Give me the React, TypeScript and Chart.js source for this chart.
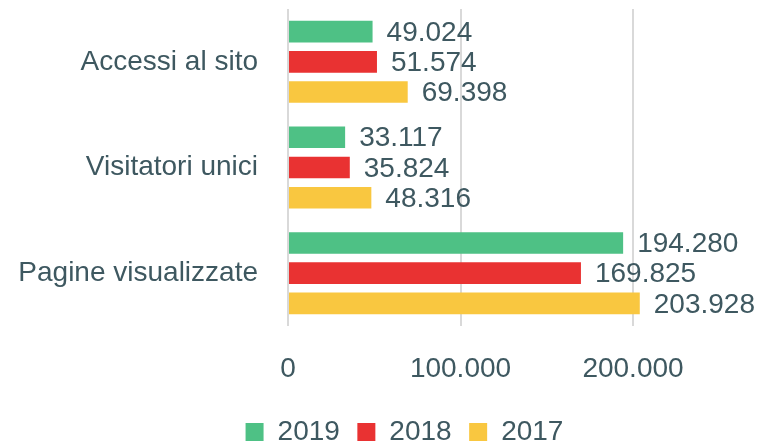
import React, { useEffect, useRef } from "react";
import { Chart, registerables } from "chart.js";

Chart.register(...registerables);

const categories = ["Accessi al sito", "Visitatori unici", "Pagine visualizzate"];
const seriesNames = ["2019", "2018", "2017"];
const values2019 = [49024, 33117, 194280];
const values2018 = [51574, 35824, 169825];
const values2017 = [69398, 48316, 203928];
const seriesColors = ["#4ec185", "#e93232", "#f9c740"];
const axisMax = 240000;
const axisStep = 100000;

const TEXT = "#3e5860";
const FONT = "'Liberation Sans', Arial, sans-serif";

function fmt(v: number): string {
  return Math.round(v).toString().replace(/\B(?=(\d{3})+(?!\d))/g, ".");
}

const dataLabels = {
  id: "dataLabels",
  afterDatasetsDraw(chart: any) {
    const ctx = chart.ctx;
    ctx.save();
    ctx.font = `28px ${FONT}`;
    ctx.fillStyle = TEXT;
    ctx.textAlign = "left";
    ctx.textBaseline = "middle";
    chart.data.datasets.forEach((ds: any, di: number) => {
      const meta = chart.getDatasetMeta(di);
      meta.data.forEach((bar: any, i: number) => {
        ctx.fillText(fmt(ds.data[i]), bar.x + 14, bar.y + 1.5);
      });
    });
    ctx.restore();
  },
};

const legendShift = {
  id: "legendShift",
  afterLayout(chart: any) {
    if (chart.legend) {
      chart.legend.left = 107;
    }
  },
};

export default function App() {
  const ref = useRef<HTMLCanvasElement | null>(null);
  useEffect(() => {
    if (!ref.current) return;
    const chart = new Chart(ref.current, {
      type: "bar",
      data: {
        labels: categories,
        datasets: [values2019, values2018, values2017].map((d, i) => ({
          label: seriesNames[i],
          data: d,
          backgroundColor: seriesColors[i],
          borderWidth: 0,
          categoryPercentage: 0.858,
          barPercentage: 0.716,
        })),
      },
      options: {
        indexAxis: "y",
        animation: false,
        responsive: true,
        maintainAspectRatio: false,
        layout: { padding: { top: 9, left: 0, right: 61, bottom: -14 } },
        scales: {
          x: {
            min: 0,
            max: axisMax,
            border: { display: false },
            grid: { color: "#d9d9d9", lineWidth: 2, drawTicks: false },
            ticks: {
              padding: 26,
              color: TEXT,
              font: { family: FONT, size: 28 },
              callback: (v: any) => fmt(Number(v)),
            },
            afterBuildTicks: (s: any) => {
              const t: any[] = [];
              for (let v = 0; v <= axisMax; v += axisStep) t.push({ value: v });
              s.ticks = t;
            },
            afterFit: (s: any) => {
              s.height = 74.5;
            },
          },
          y: {
            border: { display: false },
            grid: { display: false, drawTicks: false },
            ticks: {
              padding: 30,
              color: TEXT,
              font: { family: FONT, size: 28 },
            },
            afterFit: (s: any) => {
              s.width = 288;
              s.paddingTop = 0;
              s.paddingBottom = 0;
            },
          },
        },
        plugins: {
          legend: {
            position: "bottom",
            labels: {
              boxWidth: 18,
              boxHeight: 18,
              padding: 17.5,
              color: TEXT,
              font: { family: FONT, size: 28 },
            },
          },
          tooltip: { enabled: false },
        },
      },
      plugins: [dataLabels, legendShift],
    });
    return () => chart.destroy();
  }, []);
  return (
    <div style={{ position: "fixed", left: 0, top: 0, width: 763, height: 442 }}>
      <canvas ref={ref} />
    </div>
  );
}
